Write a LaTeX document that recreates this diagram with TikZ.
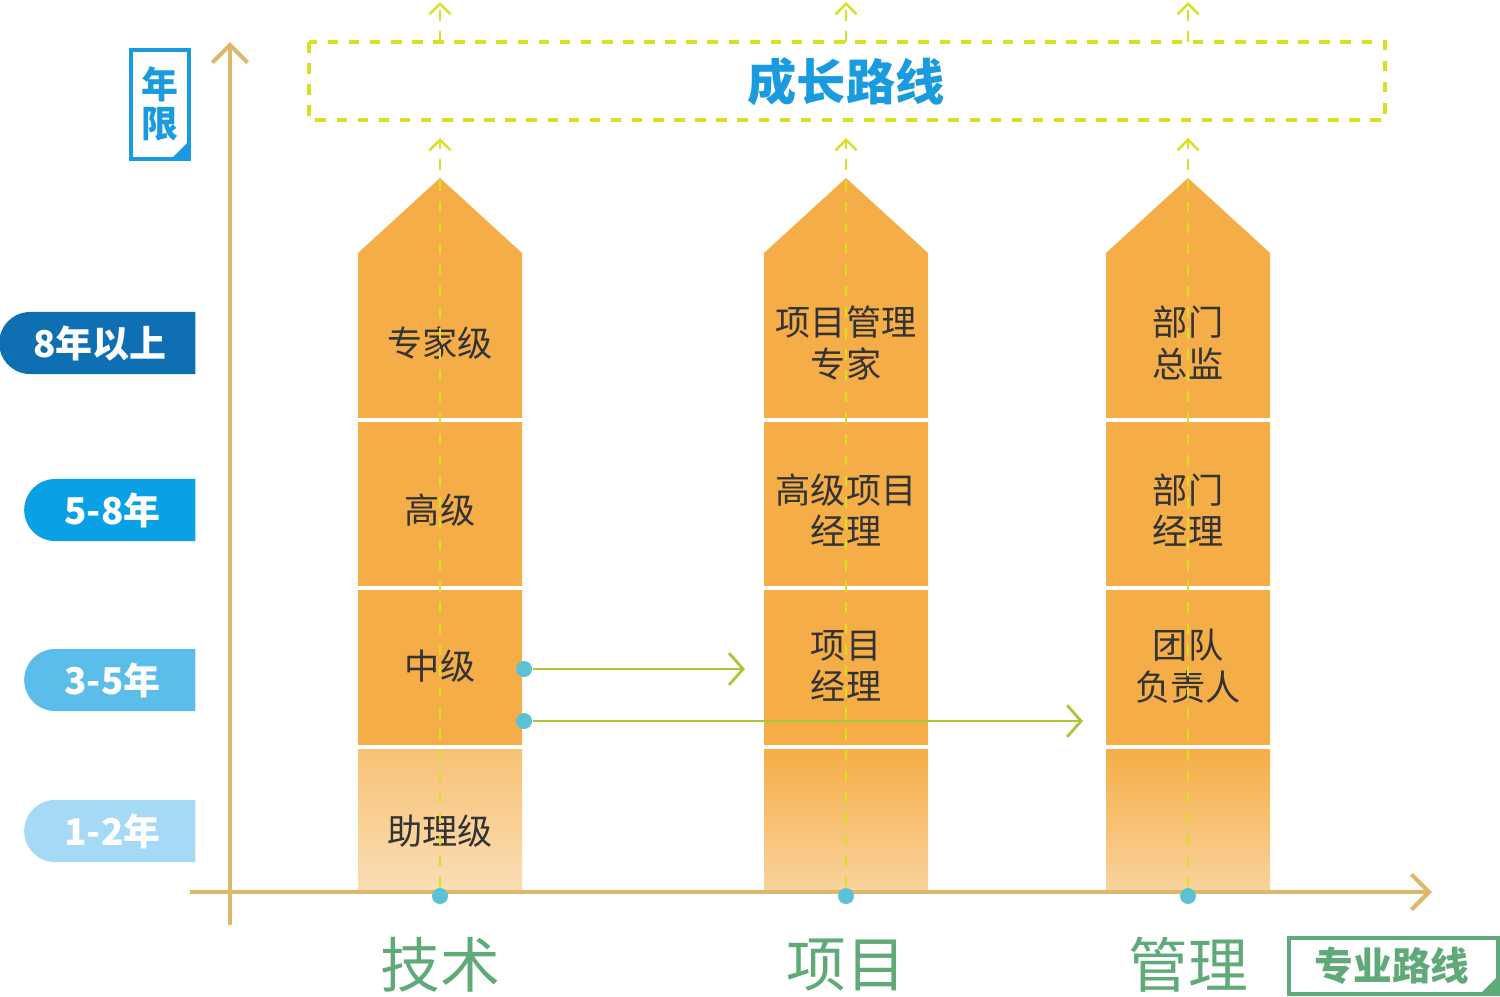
\documentclass[tikz,border=0pt]{standalone}
\usepackage{fontspec}
\setmainfont{Noto Sans CJK SC}
\usetikzlibrary{arrows.meta,shapes.misc}
\definecolor{colorange}{HTML}{F5AE47}
\definecolor{clight}{HTML}{F9D39E}
\definecolor{caxis}{HTML}{DDB86A}
\definecolor{cpath}{HTML}{D9E021}
\definecolor{carrow}{HTML}{A8C83A}
\definecolor{cdot}{HTML}{5BC2D6}
\definecolor{cblue}{HTML}{1A9BE0}
\definecolor{cgreen}{HTML}{5FAA78}
\tikzset{
  stage/.style={font=\fontsize{10}{11.8}\selectfont, text=black!80, align=center},
  pill/.style={rounded rectangle, rounded rectangle right arc=none, minimum height=0.62cm,
    text=white, font=\fontsize{10.5}{12}\selectfont\bfseries, inner sep=0pt},
  guide/.style={cpath, dashed, line width=0.7pt, -{Straight Barb[length=3pt,width=6pt]}},
  jump/.style={carrow, line width=0.8pt, -{Straight Barb[length=4pt,width=9pt]}},
  dot/.style={circle, fill=cdot, inner sep=0pt, minimum size=0.16cm},
  track/.style={cgreen, font=\fontsize{17}{18}\selectfont}
}
\begin{document}
\begin{tikzpicture}[x=0.01cm, y=-0.01cm]
\useasboundingbox (0,0) rectangle (1500,996);
% columns
\foreach \c in {440,846,1188}{
  \fill[colorange] (\c-82,747) -- (\c-82,253) -- (\c,178) -- (\c+82,253) -- (\c+82,747) -- cycle;
  \shade[top color=colorange, bottom color=clight] (\c-82,749) rectangle (\c+82,892);
  \foreach \r in {420,588,747} \draw[white, line width=1pt] (\c-82,\r) -- (\c+82,\r);
}
\fill[white, opacity=0.25] (358,749) rectangle (522,892);
% axes
\draw[caxis, line width=1.2pt, -{Straight Barb[length=5pt,width=10pt]}] (230,925) -- (230,42);
\draw[caxis, line width=1.2pt, -{Straight Barb[length=5pt,width=10pt]}] (190,892) -- (1432,892);
% year labels
\node[pill, fill=cdot!0!blue!60!cyan!100!black, fill={rgb,255:red,15;green,111;blue,179}, minimum width=1.96cm, anchor=east] (y8) at (196,343) {8年以上};
\node[pill, fill={rgb,255:red,10;green,160;blue,230}, minimum width=1.71cm, anchor=east] (y5) at (196,510) {5-8年};
\node[pill, fill={rgb,255:red,91;green,189;blue,234}, minimum width=1.71cm, anchor=east] (y3) at (196,680) {3-5年};
\node[pill, fill={rgb,255:red,165;green,217;blue,245}, minimum width=1.71cm, anchor=east] (y1) at (196,831) {1-2年};
% year box
\draw[cblue, line width=1pt] (131,50) rectangle (189,159);
\fill[cblue] (189,141) -- (189,159) -- (171,159) -- cycle;
\node[cblue, font=\fontsize{10.5}{11}\selectfont\bfseries, align=center] (nian) at (160,104) {年\\限};
% growth box
\draw[cpath, dashed, line width=0.9pt] (309,42) rectangle (1385,120);
\node[cblue, font=\fontsize{14}{15}\selectfont\bfseries] (title) at (846,82) {成长路线};
% stages
\node[stage] (t4) at (440,343) {专家级};
\node[stage] (t3) at (440,510) {高级};
\node[stage] (t2) at (440,666) {中级};
\node[stage] (t1) at (440,831) {助理级};
\node[stage] (p4) at (846,343) {项目管理\\专家};
\node[stage] (p3) at (846,510) {高级项目\\经理};
\node[stage] (p2) at (846,666) {项目\\经理};
\node[stage] (m4) at (1188,343) {部门\\总监};
\node[stage] (m3) at (1188,510) {部门\\经理};
\node[stage] (m2) at (1188,666) {团队\\负责人};
% guides
\foreach \c/\n in {440/a,846/b,1188/c}{
  \node[dot] (\n) at (\c,896) {};
  \coordinate (\n top) at (\c,138);
  \coordinate (\n box) at (\c,42);
  \coordinate (\n end) at (\c,2);
  \draw[guide] (\n) -- (\n top);
  \draw[guide] (\n box) -- (\n end);
}
% jumps
\node[dot] (j1) at (524,669) {};
\node[dot] (j2) at (524,721) {};
\coordinate (j1end) at (745,669);
\coordinate (j2end) at (1083,721);
\draw[jump] (j1) -- (j1end);
\draw[jump] (j2) -- (j2end);
% tracks
\node[track] (tech) at (440,965) {技术};
\node[track] (proj) at (846,965) {项目};
\node[track] (mgmt) at (1188,965) {管理};
\draw[cgreen, line width=1.2pt] (1289,994) -- (1289,938) -- (1498,938) -- (1498,994) -- cycle;
\fill[cgreen] (1498,976) -- (1498,994) -- (1480,994) -- cycle;
\node[cgreen, font=\fontsize{11}{12}\selectfont\bfseries] (zy) at (1392,966) {专业路线};
\end{tikzpicture}
\end{document}
